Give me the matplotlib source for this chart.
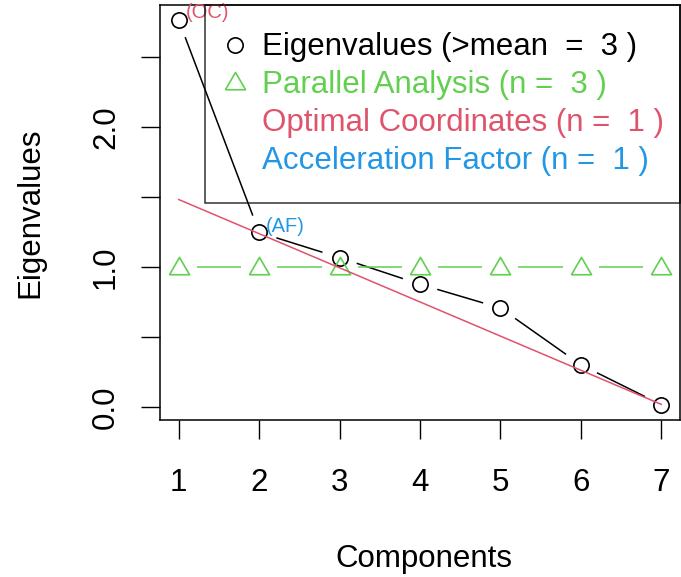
import numpy as np
import matplotlib
matplotlib.use("Agg")
import matplotlib.pyplot as plt
from matplotlib.collections import LineCollection
from matplotlib.lines import Line2D

plt.rcParams['font.family'] = ['Liberation Sans', 'DejaVu Sans']

components = [1, 2, 3, 4, 5, 6, 7]
eigenvalues = [2.765, 1.25, 1.07, 0.88, 0.71, 0.305, 0.02]
parallel = [1.0, 1.0, 1.0, 1.0, 1.0, 1.0, 1.0]
oc_x = [1, 7]
oc_y = [1.485, 0.022]
n_kaiser, n_parallel, n_oc, n_af = 3, 3, 1, 1
af_component = 2

red = "#DF536B"
green = "#61D04F"
blue = "#2297E6"

W, H = 681, 577
fig = plt.figure(figsize=(W / 100, H / 100), dpi=100)
ax = fig.add_axes([159.5 / W, 1 - 420 / H, 521 / W, 415 / H])

# R style axis ranges: data range padded by 4%
xr = max(components) - min(components)
ax.set_xlim(min(components) - 0.04 * xr, max(components) + 0.04 * xr)
yr = max(eigenvalues) - min(eigenvalues)
ax.set_ylim(min(eigenvalues) - 0.04 * yr, max(eigenvalues) + 0.04 * yr)


def gapped_line(x, y, gap, **kw):
    # lines broken around each point, like type = "b"
    pts = ax.transData.transform(np.column_stack([x, y]))
    inv = ax.transData.inverted()
    segs = []
    for p, q in zip(pts[:-1], pts[1:]):
        d = q - p
        L = np.hypot(*d)
        if L <= 2 * gap:
            continue
        u = d / L
        segs.append(inv.transform([p + u * gap, q - u * gap]))
    ax.add_collection(LineCollection(segs, **kw))


tri = [(-1, -0.72), (1, -0.72), (0, 1.0), (-1, -0.72)]

gapped_line(components, eigenvalues, 18, colors='black', linewidths=1.1)
ax.plot(components, eigenvalues, 'o', ms=11, mfc='none', mec='black', mew=1.2)
gapped_line(components, parallel, 18, colors=green, linewidths=1.1)
ax.plot(components, parallel, linestyle='none', marker=tri, ms=14.5,
        mfc='none', mec=green, mew=1.2)
ax.plot(oc_x, oc_y, color=red, lw=1.1)

ax.annotate("(OC)", (components[n_oc - 1], eigenvalues[n_oc - 1]),
            xytext=(5, 1.5), textcoords='offset points', ha='left',
            va='baseline', color=red, fontsize=14.5)
ax.annotate("(AF)", (af_component, eigenvalues[af_component - 1]),
            xytext=(5, 0.5), textcoords='offset points', ha='left',
            va='baseline', color=blue, fontsize=14.5)

fs = 22.5
ax.set_xticks(components)
ax.set_yticks([0, 0.5, 1.0, 1.5, 2.0, 2.5])
ax.set_yticklabels(["0.0", "", "1.0", "", "2.0", ""])
ax.tick_params(axis='both', length=13.7, width=1.0, direction='out',
               labelsize=fs)
ax.tick_params(axis='x', pad=21.0)
ax.tick_params(axis='y', pad=14.0)
for lbl in ax.get_yticklabels():
    lbl.set_rotation(90)
    lbl.set_va('center')
for s in ax.spines.values():
    s.set_linewidth(1.1)

fig.text(30 / W, 1 - 212.5 / H, "Eigenvalues", rotation=90, ha='center',
         va='center', fontsize=fs)
fig.text(424 / W, 1 - 566.7 / H, "Components", ha='center', va='baseline',
         fontsize=fs)

handles = [
    Line2D([], [], ls='none', marker='o', ms=11, mfc='none', mec='black', mew=1.2),
    Line2D([], [], ls='none', marker=tri, ms=14.5, mfc='none', mec=green, mew=1.2),
    Line2D([], [], ls='none'),
    Line2D([], [], ls='none'),
]
labels = [
    f"Eigenvalues (>mean  =  {n_kaiser} )",
    f"Parallel Analysis (n =  {n_parallel} )",
    f"Optimal Coordinates (n =  {n_oc} )",
    f"Acceleration Factor (n =  {n_af} )",
]
x0 = (204.5 - 159.5) / 521
leg = ax.legend(handles, labels, loc='upper left', mode='expand',
                bbox_to_anchor=(x0, 0, 1 - x0, 1), borderaxespad=0,
                fontsize=fs, fancybox=False, facecolor='none',
                edgecolor='black', borderpad=0.88, handlelength=0.16,
                handletextpad=0.81, labelspacing=0.25,
                labelcolor=['black', green, red, blue])
leg.get_frame().set_linewidth(1.1)

fig.savefig("out.png", dpi=100)
